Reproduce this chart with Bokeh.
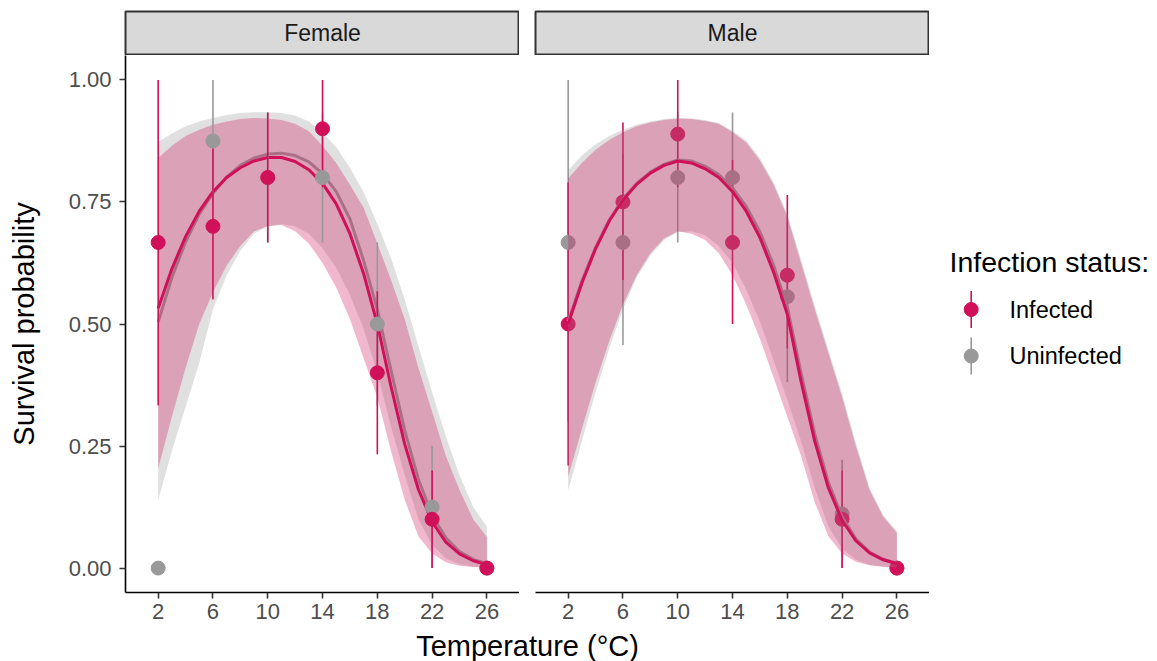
from bokeh.plotting import figure
from bokeh.layouts import row, column
from bokeh.models import Range1d, FixedTicker
from bokeh.core.properties import value
from bokeh.embed import file_html
from bokeh.resources import INLINE

# ---- observed survival by temperature (points with 95% intervals) ----
temps = [2, 6, 10, 14, 18, 22, 26]

fem_inf_p = [0.667, 0.70, 0.80, 0.90, 0.40, 0.10, 0.0]
fem_inf_lo = [0.333, 0.55, 0.667, 0.78, 0.233, 0.0, 0.0]
fem_inf_hi = [1.0, 0.86, 0.933, 1.0, 0.567, 0.20, 0.0]
fem_uni_p = [0.0, 0.875, 0.80, 0.80, 0.50, 0.125, 0.0]
fem_uni_lo = [0.0, 0.75, 0.667, 0.667, 0.333, 0.0, 0.0]
fem_uni_hi = [0.0, 1.0, 0.933, 0.933, 0.667, 0.25, 0.0]

male_inf_p = [0.50, 0.75, 0.889, 0.667, 0.60, 0.10, 0.0]
male_inf_lo = [0.21, 0.59, 0.78, 0.50, 0.45, 0.0, 0.0]
male_inf_hi = [0.79, 0.913, 1.0, 0.836, 0.764, 0.20, 0.0]
male_uni_p = [0.667, 0.667, 0.80, 0.80, 0.556, 0.111, 0.0]
male_uni_lo = [0.30, 0.457, 0.667, 0.667, 0.381, 0.0, 0.0]
male_uni_hi = [1.0, 0.85, 0.933, 0.933, 0.72, 0.222, 0.0]

# ---- fitted survival curves with confidence bands ----
curve_x = [2, 3, 4, 5, 6, 7, 8, 9, 10, 11, 12, 13, 14, 15, 16, 17, 18, 19, 20, 21, 22, 23, 24, 25, 26]

fem_inf_fit = [0.532, 0.613, 0.679, 0.731, 0.771, 0.800, 0.820, 0.834, 0.841, 0.841, 0.833, 0.816, 0.788,
               0.746, 0.685, 0.603, 0.500, 0.372, 0.254, 0.161, 0.095, 0.053, 0.029, 0.015, 0.007]
fem_inf_band_hi = [0.84, 0.865, 0.885, 0.898, 0.908, 0.915, 0.92, 0.922, 0.921, 0.918, 0.91, 0.895, 0.865,
                   0.83, 0.785, 0.738, 0.665, 0.59, 0.51, 0.41, 0.32, 0.23, 0.16, 0.10, 0.063]
fem_inf_band_lo = [0.204, 0.31, 0.41, 0.50, 0.565, 0.62, 0.66, 0.69, 0.70, 0.703, 0.69, 0.665, 0.625,
                   0.575, 0.51, 0.43, 0.35, 0.24, 0.14, 0.065, 0.03, 0.012, 0.005, 0.002, 0.001]
fem_uni_fit = [0.504, 0.595, 0.668, 0.725, 0.768, 0.801, 0.825, 0.840, 0.848, 0.850, 0.845, 0.832, 0.808,
               0.771, 0.715, 0.630, 0.530, 0.405, 0.282, 0.182, 0.108, 0.062, 0.034, 0.018, 0.009]
fem_uni_band_hi = [0.873, 0.89, 0.905, 0.915, 0.922, 0.928, 0.932, 0.934, 0.934, 0.932, 0.927, 0.915, 0.893,
                   0.862, 0.82, 0.77, 0.705, 0.635, 0.55, 0.455, 0.36, 0.27, 0.19, 0.125, 0.085]
fem_uni_band_lo = [0.139, 0.24, 0.33, 0.42, 0.53, 0.60, 0.65, 0.685, 0.70, 0.705, 0.70, 0.685, 0.655,
                   0.615, 0.56, 0.49, 0.40, 0.29, 0.19, 0.10, 0.048, 0.02, 0.008, 0.003, 0.001]

male_inf_fit = [0.500, 0.584, 0.654, 0.711, 0.754, 0.786, 0.809, 0.825, 0.834, 0.830, 0.818, 0.800, 0.771,
                0.731, 0.677, 0.606, 0.520, 0.383, 0.260, 0.164, 0.098, 0.056, 0.031, 0.017, 0.009]
male_inf_band_hi = [0.798, 0.83, 0.857, 0.877, 0.893, 0.905, 0.913, 0.918, 0.921, 0.92, 0.916, 0.91, 0.893,
                    0.872, 0.835, 0.785, 0.72, 0.625, 0.53, 0.44, 0.35, 0.25, 0.16, 0.105, 0.072]
male_inf_band_lo = [0.187, 0.285, 0.38, 0.465, 0.54, 0.60, 0.645, 0.675, 0.69, 0.685, 0.672, 0.645, 0.60,
                    0.54, 0.47, 0.39, 0.31, 0.23, 0.135, 0.065, 0.03, 0.013, 0.006, 0.003, 0.001]
male_uni_fit = [0.505, 0.588, 0.657, 0.713, 0.756, 0.788, 0.811, 0.827, 0.836, 0.834, 0.823, 0.806, 0.779,
                0.741, 0.689, 0.620, 0.535, 0.400, 0.275, 0.175, 0.105, 0.060, 0.033, 0.018, 0.010]
male_uni_band_hi = [0.815, 0.845, 0.868, 0.885, 0.898, 0.908, 0.915, 0.92, 0.922, 0.921, 0.918, 0.911, 0.896,
                    0.876, 0.84, 0.79, 0.725, 0.632, 0.538, 0.447, 0.357, 0.257, 0.165, 0.108, 0.076]
male_uni_band_lo = [0.159, 0.26, 0.36, 0.45, 0.53, 0.595, 0.64, 0.672, 0.688, 0.69, 0.682, 0.66, 0.625,
                    0.57, 0.505, 0.425, 0.345, 0.26, 0.165, 0.085, 0.04, 0.017, 0.007, 0.003, 0.001]

# ---- labels ----
panel_names = ["Female", "Male"]
status_names = ["Infected", "Uninfected"]
legend_title = "Infection status:"
x_title = "Temperature (°C)"
y_title = "Survival probability"
x_ticks = [2, 6, 10, 14, 18, 22, 26]
y_ticks = [0.0, 0.25, 0.5, 0.75, 1.0]
y_tick_labels = ["0.00", "0.25", "0.50", "0.75", "1.00"]

FONT = "Liberation Sans"
COL_INF = "#D1105A"
COL_UNI = "#999999"
BAND_ALPHA = 0.3

LEFT_W = 125
GAP = 16
FRAME_W = 394
FRAME_H = 537
AXIS_H = 35
STRIP_H = 55
PANEL_H = FRAME_H + AXIS_H
LEGEND_W = 1157 - (LEFT_W + FRAME_W) - (GAP + FRAME_W)
TITLE_H = 661 - STRIP_H - PANEL_H


def strip(label, left):
    s = figure(width=left + FRAME_W, height=STRIP_H, x_range=Range1d(0, 1), y_range=Range1d(0, 1),
               output_backend="svg", toolbar_location=None,
               x_axis_location=None, y_axis_location=None,
               min_border_left=left, min_border_right=0, min_border_top=11, min_border_bottom=1)
    s.grid.visible = False
    s.background_fill_color = "#D9D9D9"
    s.border_fill_color = "white"
    s.outline_line_color = "#333333"
    s.outline_line_width = 2
    s.text(x=[0.5], y=[0.5], text=[label], text_align="center", text_baseline="middle",
           text_font=value(FONT), text_font_size="23px", text_color="#1A1A1A")
    return s


def draw_band(p, lo, hi, fit, color):
    p.varea(x=curve_x, y1=lo, y2=hi, fill_color=color, fill_alpha=BAND_ALPHA)
    p.line(x=curve_x, y=fit, line_color=color, line_width=3, line_join="round")


def draw_obs(p, series):
    # all interval lines first, then all points
    for pts, lo, hi, color in series:
        p.segment(x0=temps, y0=lo, x1=temps, y1=hi, line_color=color, line_width=1.6)
    for pts, lo, hi, color in series:
        p.scatter(x=temps, y=pts, size=14, fill_color=color, line_color=color)


def panel(left, has_y, obs, bands, bands_on_top):
    p = figure(width=left + FRAME_W, height=PANEL_H,
               x_range=Range1d(-0.385, 28.38), y_range=Range1d(-0.05, 1.05),
               output_backend="svg", toolbar_location=None,
               y_axis_location="left" if has_y else None,
               min_border_left=left, min_border_right=0, min_border_top=0, min_border_bottom=AXIS_H)
    p.grid.visible = False
    p.outline_line_color = None
    p.background_fill_color = "white"

    p.xaxis.ticker = FixedTicker(ticks=x_ticks)
    p.xaxis.minor_tick_line_color = None
    if has_y:
        p.yaxis.ticker = FixedTicker(ticks=y_ticks)
        p.yaxis.major_label_overrides = {t: lab for t, lab in zip(y_ticks, y_tick_labels)}
        p.yaxis.minor_tick_line_color = None
        p.yaxis.axis_label = y_title
        p.yaxis.axis_label_text_font = FONT
        p.yaxis.axis_label_text_font_size = "29px"
        p.yaxis.axis_label_text_font_style = "normal"
        p.yaxis.axis_label_text_color = "#000000"
        p.yaxis.axis_label_standoff = 26
        p.yaxis.major_label_standoff = 8
    for ax in p.axis:
        ax.axis_line_color = "#000000"
        ax.axis_line_width = 1.6
        ax.major_tick_line_color = "#333333"
        ax.major_tick_line_width = 1.6
        ax.major_tick_in = 0
        ax.major_tick_out = 6
        ax.major_label_text_font = FONT
        ax.major_label_text_font_size = "22px"
        ax.major_label_text_color = "#4D4D4D"
    p.xaxis.major_label_standoff = 5

    if bands_on_top:
        draw_obs(p, obs)
        for b in bands:
            draw_band(p, *b)
    else:
        for b in bands:
            draw_band(p, *b)
        draw_obs(p, obs)
    return p


fem_obs = [(fem_uni_p, fem_uni_lo, fem_uni_hi, COL_UNI), (fem_inf_p, fem_inf_lo, fem_inf_hi, COL_INF)]
fem_bands = [(fem_uni_band_lo, fem_uni_band_hi, fem_uni_fit, COL_UNI),
             (fem_inf_band_lo, fem_inf_band_hi, fem_inf_fit, COL_INF)]
male_obs = [(male_uni_p, male_uni_lo, male_uni_hi, COL_UNI), (male_inf_p, male_inf_lo, male_inf_hi, COL_INF)]
male_bands = [(male_uni_band_lo, male_uni_band_hi, male_uni_fit, COL_UNI),
              (male_inf_band_lo, male_inf_band_hi, male_inf_fit, COL_INF)]

p_f = panel(LEFT_W, True, fem_obs, fem_bands, bands_on_top=False)
p_m = panel(GAP, False, male_obs, male_bands, bands_on_top=True)

# ---- legend drawn in its own area (pixel coordinates, y downward) ----
leg = figure(width=LEGEND_W, height=STRIP_H + PANEL_H, x_range=Range1d(0, LEGEND_W),
             y_range=Range1d(STRIP_H + PANEL_H, 0), output_backend="svg", toolbar_location=None,
             x_axis_location=None, y_axis_location=None,
             min_border_left=0, min_border_right=0, min_border_top=0, min_border_bottom=0)
leg.grid.visible = False
leg.outline_line_color = None
leg.text(x=[20], y=[261], text=[legend_title], text_align="left", text_baseline="middle",
         text_font=value(FONT), text_font_size="28.5px", text_color="#000000")
key_x = [41.7, 41.7]
key_y = [309, 355.5]
key_cols = [COL_INF, COL_UNI]
leg.segment(x0=key_x, y0=[y - 18.5 for y in key_y], x1=key_x, y1=[y + 18.5 for y in key_y],
            line_color=key_cols, line_width=1.6)
leg.scatter(x=key_x, y=key_y, size=14, fill_color=key_cols, line_color=key_cols)
leg.text(x=[80, 80], y=key_y, text=status_names, text_align="left", text_baseline="middle",
         text_font=value(FONT), text_font_size="23.5px", text_color="#000000")

# ---- shared x-axis title ----
xt = figure(width=1157, height=TITLE_H, x_range=Range1d(0, 1157),
            y_range=Range1d(TITLE_H, 0), output_backend="svg", toolbar_location=None,
            x_axis_location=None, y_axis_location=None,
            min_border_left=0, min_border_right=0, min_border_top=0, min_border_bottom=0)
xt.grid.visible = False
xt.outline_line_color = None
xt.text(x=[(LEFT_W + LEFT_W + FRAME_W + GAP + FRAME_W) / 2], y=[TITLE_H - 16], text=[x_title],
        text_align="center", text_baseline="middle",
        text_font=value(FONT), text_font_size="29px", text_color="#000000")

layout = column(
    row(column(strip(panel_names[0], LEFT_W), p_f),
        column(strip(panel_names[1], GAP), p_m),
        leg),
    xt,
)

open("out.html", "w").write(file_html(layout, INLINE))
